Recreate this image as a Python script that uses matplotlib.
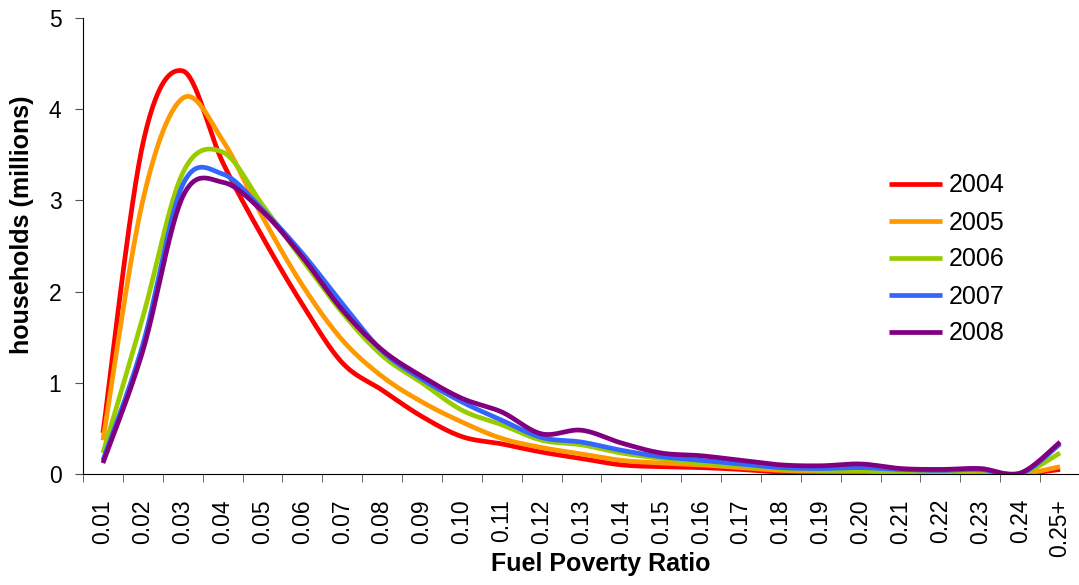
import matplotlib
matplotlib.use("Agg")
import matplotlib.pyplot as plt
import numpy as np

plt.rcParams['font.family'] = ['Liberation Sans', 'DejaVu Sans']

ratios = ["0.01", "0.02", "0.03", "0.04", "0.05", "0.06", "0.07", "0.08", "0.09",
          "0.10", "0.11", "0.12", "0.13", "0.14", "0.15", "0.16", "0.17", "0.18",
          "0.19", "0.20", "0.21", "0.22", "0.23", "0.24", "0.25+"]

y2004 = [0.45, 3.62, 4.42, 3.42, 2.60, 1.86, 1.22, 0.92, 0.63, 0.41, 0.33, 0.24, 0.17,
         0.10, 0.08, 0.07, 0.05, 0.02, 0.01, 0.02, 0.01, 0.01, 0.01, 0.00, 0.05]
y2005 = [0.37, 3.00, 4.12, 3.66, 2.82, 2.07, 1.47, 1.07, 0.79, 0.57, 0.39, 0.29, 0.22,
         0.15, 0.12, 0.10, 0.07, 0.04, 0.03, 0.03, 0.02, 0.02, 0.02, 0.00, 0.08]
y2006 = [0.23, 1.72, 3.30, 3.53, 2.95, 2.35, 1.77, 1.30, 1.00, 0.70, 0.54, 0.37, 0.32,
         0.23, 0.17, 0.12, 0.09, 0.06, 0.04, 0.04, 0.03, 0.03, 0.04, 0.00, 0.23]
y2007 = [0.15, 1.42, 3.17, 3.29, 2.90, 2.42, 1.87, 1.35, 1.04, 0.79, 0.59, 0.40, 0.35,
         0.26, 0.19, 0.15, 0.11, 0.07, 0.06, 0.07, 0.05, 0.04, 0.05, 0.00, 0.33]
y2008 = [0.12, 1.35, 3.04, 3.20, 2.88, 2.38, 1.80, 1.36, 1.07, 0.83, 0.68, 0.44, 0.48,
         0.34, 0.23, 0.20, 0.15, 0.10, 0.09, 0.11, 0.06, 0.05, 0.06, 0.01, 0.35]

series = [("2004", y2004, "#FF0000"), ("2005", y2005, "#FF9900"),
          ("2006", y2006, "#99CC00"), ("2007", y2007, "#3366FF"),
          ("2008", y2008, "#800080")]


def smooth(x, y, n=30):
    # Excel style smoothed line (Catmull-Rom as Bezier)
    x = np.asarray(x, float)
    y = np.asarray(y, float)
    px = np.concatenate([[x[0]], x, [x[-1]]])
    py = np.concatenate([[y[0]], y, [y[-1]]])
    t = np.linspace(0, 1, n)[:, None]
    xs, ys = [], []
    for i in range(1, len(px) - 2):
        p0 = np.array([px[i], py[i]])
        p3 = np.array([px[i + 1], py[i + 1]])
        c1 = p0 + (p3 - np.array([px[i - 1], py[i - 1]])) / 6
        c2 = p3 - (np.array([px[i + 2], py[i + 2]]) - p0) / 6
        b = (1 - t) ** 3 * p0 + 3 * (1 - t) ** 2 * t * c1 + 3 * (1 - t) * t ** 2 * c2 + t ** 3 * p3
        xs.append(b[:, 0])
        ys.append(b[:, 1])
    return np.concatenate(xs), np.concatenate(ys)


fig = plt.figure(figsize=(10.79, 5.85), dpi=100)
ax = fig.add_axes([83 / 1079, 1 - 474 / 585, 997 / 1079, 456 / 585])

xpos = np.arange(len(ratios))
for name, vals, col in series:
    sx, sy = smooth(xpos, vals)
    ax.plot(sx, sy, color=col, linewidth=3.4, label=name, solid_capstyle='butt')

ax.set_xlim(-0.5, len(ratios) - 0.5)
ax.set_ylim(0, 5)
ax.set_yticks(range(6))
ax.tick_params(axis='y', labelsize=16.5, length=5.5, direction='out', pad=10, color='#505050')
ax.set_xticks(xpos)
ax.set_xticklabels(ratios, rotation=90, fontsize=16.5)
ax.tick_params(axis='x', which='major', length=0, pad=18)
ax.set_xticks(np.arange(-0.5, len(ratios) - 0.4, 1), minor=True)
ax.tick_params(axis='x', which='minor', length=6, color='#505050')

ax.spines['top'].set_visible(False)
ax.spines['right'].set_visible(False)

ax.set_xlabel("Fuel Poverty Ratio", fontsize=18, fontweight='bold')
ax.xaxis.set_label_coords(0.519, -0.172)
ax.set_ylabel("households (millions)", fontsize=18, fontweight='bold')
ax.yaxis.set_label_coords(-0.049, 0.546)

fig.legend(loc='upper left', bbox_to_anchor=(876 / 1079, 1 - 161 / 585), frameon=False,
           fontsize=18, handlelength=2.15, handletextpad=0.25, labelspacing=0.52, borderpad=0)

plt.savefig("out.png", dpi=100)
